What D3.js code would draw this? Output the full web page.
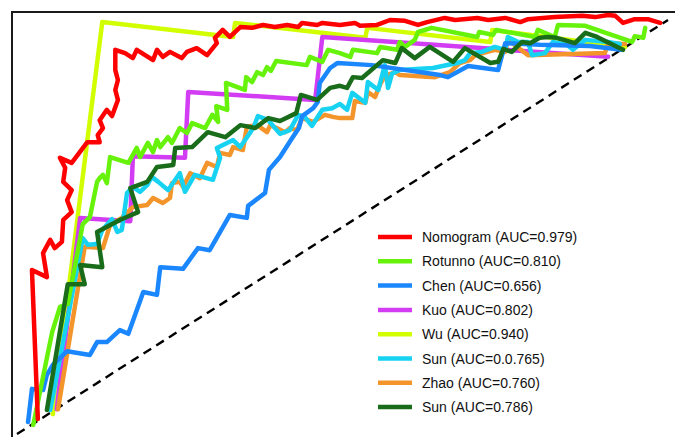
<!DOCTYPE html>
<html>
<head>
<meta charset="utf-8">
<script src="https://cdn.jsdelivr.net/npm/d3@7/dist/d3.min.js"></script>
<style>
  html, body { margin: 0; padding: 0; background: #fff; }
  svg { display: block; }
</style>
</head>
<body>
<div id="chart"></div>
<script>
// ROC curves of eight prediction models: [false positive rate, true positive rate]
const nomogram = [[0.032,0.036],[0.023,0.396],[0.046,0.379],[0.040,0.437],[0.051,0.469],[0.058,0.449],[0.069,0.464],[0.071,0.517],[0.084,0.536],[0.077,0.565],[0.084,0.589],[0.071,0.609],[0.074,0.643],[0.066,0.667],[0.084,0.655],[0.108,0.705],[0.127,0.705],[0.124,0.722],[0.132,0.739],[0.127,0.758],[0.138,0.783],[0.146,0.768],[0.155,0.807],[0.151,0.831],[0.155,0.855],[0.151,0.879],[0.151,0.928],[0.166,0.920],[0.178,0.908],[0.184,0.928],[0.209,0.903],[0.215,0.928],[0.224,0.911],[0.235,0.923],[0.253,0.908],[0.261,0.923],[0.276,0.932],[0.292,0.915],[0.307,0.944],[0.304,0.957],[0.316,0.976],[0.327,0.959],[0.343,0.983],[0.361,0.981],[0.378,0.988],[0.396,0.983],[0.415,0.988],[0.432,0.983],[0.438,0.993],[0.461,0.988],[0.469,0.993],[0.496,0.988],[0.519,0.993],[0.527,0.986],[0.553,0.988],[0.573,1.000],[0.596,0.998],[0.616,0.988],[0.630,0.995],[0.657,1.005],[0.673,1.000],[0.707,1.005],[0.724,1.000],[0.750,1.005],[0.773,0.995],[0.785,1.002],[0.826,1.007],[0.868,1.010],[0.888,1.007],[0.908,1.012],[0.919,1.010],[0.931,0.993],[0.949,1.002],[0.969,1.002],[0.988,0.993]];

const rotunno = [[0.025,0.022],[0.054,0.246],[0.066,0.307],[0.078,0.314],[0.101,0.507],[0.112,0.524],[0.123,0.609],[0.127,0.618],[0.132,0.626],[0.138,0.606],[0.143,0.669],[0.171,0.655],[0.184,0.691],[0.189,0.669],[0.201,0.703],[0.209,0.681],[0.215,0.710],[0.220,0.693],[0.232,0.717],[0.238,0.703],[0.250,0.739],[0.261,0.727],[0.269,0.751],[0.289,0.739],[0.300,0.771],[0.309,0.754],[0.306,0.792],[0.323,0.783],[0.321,0.848],[0.350,0.831],[0.352,0.862],[0.361,0.850],[0.369,0.874],[0.378,0.867],[0.384,0.886],[0.390,0.877],[0.398,0.901],[0.445,0.891],[0.450,0.911],[0.469,0.899],[0.478,0.928],[0.496,0.920],[0.512,0.911],[0.516,0.928],[0.553,0.920],[0.558,0.935],[0.584,0.928],[0.588,0.947],[0.596,0.935],[0.611,0.952],[0.616,0.971],[0.637,0.981],[0.707,0.959],[0.710,0.971],[0.731,0.964],[0.736,0.976],[0.796,0.959],[0.800,0.976],[0.826,0.959],[0.831,0.988],[0.873,0.986],[0.945,0.947],[0.949,0.961],[0.962,0.957],[0.965,0.981]];

const chen = [[0.017,0.029],[0.023,0.109],[0.040,0.106],[0.046,0.143],[0.055,0.167],[0.077,0.200],[0.112,0.191],[0.123,0.222],[0.138,0.222],[0.158,0.251],[0.171,0.242],[0.194,0.343],[0.215,0.336],[0.220,0.403],[0.255,0.399],[0.278,0.449],[0.296,0.444],[0.327,0.529],[0.353,0.522],[0.355,0.551],[0.381,0.582],[0.387,0.638],[0.404,0.669],[0.422,0.713],[0.433,0.739],[0.438,0.768],[0.455,0.787],[0.462,0.802],[0.465,0.848],[0.481,0.884],[0.492,0.896],[0.545,0.891],[0.650,0.867],[0.662,0.862],[0.693,0.889],[0.739,0.879],[0.750,0.944],[0.803,0.940],[0.880,0.937],[0.929,0.928]];

const kuo = [[0.061,0.060],[0.097,0.522],[0.174,0.514],[0.178,0.671],[0.258,0.667],[0.263,0.826],[0.458,0.807],[0.469,0.959],[0.908,0.911]];

const wu = [[0.055,0.048],[0.131,0.995],[0.332,0.959],[0.335,0.993],[0.535,0.957],[0.538,0.981],[0.727,0.947],[0.730,0.976],[0.934,0.935]];

const sunA = [[0.051,0.058],[0.101,0.473],[0.109,0.457],[0.123,0.459],[0.131,0.493],[0.146,0.519],[0.154,0.488],[0.161,0.493],[0.169,0.582],[0.178,0.597],[0.189,0.585],[0.200,0.601],[0.207,0.621],[0.217,0.609],[0.232,0.589],[0.250,0.630],[0.258,0.585],[0.273,0.626],[0.301,0.614],[0.312,0.667],[0.307,0.691],[0.332,0.710],[0.343,0.693],[0.363,0.739],[0.370,0.768],[0.386,0.758],[0.404,0.725],[0.419,0.734],[0.432,0.771],[0.442,0.766],[0.453,0.744],[0.469,0.783],[0.484,0.787],[0.496,0.797],[0.507,0.783],[0.515,0.824],[0.535,0.800],[0.539,0.850],[0.555,0.831],[0.565,0.891],[0.570,0.836],[0.576,0.870],[0.588,0.879],[0.639,0.884],[0.676,0.896],[0.688,0.903],[0.696,0.920],[0.714,0.923],[0.734,0.935],[0.750,0.928],[0.754,0.959],[0.770,0.947],[0.785,0.947],[0.791,0.915],[0.811,0.920],[0.823,0.947],[0.845,0.940],[0.854,0.928],[0.873,0.952],[0.908,0.947],[0.926,0.942]];

const zhao = [[0.063,0.060],[0.104,0.452],[0.132,0.449],[0.143,0.505],[0.161,0.522],[0.178,0.548],[0.200,0.553],[0.209,0.570],[0.224,0.558],[0.235,0.570],[0.238,0.606],[0.250,0.609],[0.255,0.597],[0.266,0.630],[0.281,0.618],[0.292,0.655],[0.307,0.645],[0.312,0.679],[0.327,0.674],[0.332,0.693],[0.347,0.686],[0.353,0.742],[0.369,0.746],[0.384,0.729],[0.389,0.746],[0.399,0.739],[0.412,0.729],[0.419,0.739],[0.430,0.734],[0.438,0.763],[0.447,0.758],[0.455,0.754],[0.473,0.771],[0.485,0.766],[0.496,0.763],[0.515,0.763],[0.519,0.804],[0.535,0.800],[0.539,0.826],[0.550,0.814],[0.558,0.845],[0.565,0.865],[0.581,0.874],[0.588,0.867],[0.642,0.862],[0.665,0.874],[0.680,0.896],[0.696,0.903],[0.704,0.915],[0.734,0.928],[0.750,0.923],[0.754,0.952],[0.785,0.915],[0.903,0.920],[0.908,0.944],[0.934,0.942]];

const sunB = [[0.046,0.058],[0.078,0.362],[0.104,0.362],[0.097,0.408],[0.131,0.403],[0.123,0.488],[0.158,0.517],[0.186,0.536],[0.174,0.594],[0.200,0.609],[0.215,0.645],[0.240,0.650],[0.243,0.691],[0.269,0.693],[0.293,0.729],[0.320,0.717],[0.343,0.746],[0.366,0.739],[0.386,0.763],[0.404,0.756],[0.429,0.775],[0.436,0.819],[0.461,0.807],[0.481,0.836],[0.496,0.841],[0.507,0.836],[0.516,0.862],[0.530,0.860],[0.562,0.903],[0.581,0.896],[0.591,0.932],[0.611,0.908],[0.634,0.935],[0.670,0.899],[0.688,0.932],[0.727,0.896],[0.739,0.899],[0.747,0.930],[0.760,0.923],[0.776,0.947],[0.788,0.944],[0.803,0.957],[0.816,0.959],[0.829,0.957],[0.857,0.944],[0.873,0.969],[0.891,0.959],[0.931,0.928]];

// Legend entries (top to bottom) and line colours
const modelNames = ["Nomogram (AUC=0.979)", "Rotunno (AUC=0.810)", "Chen (AUC=0.656)", "Kuo (AUC=0.802)", "Wu (AUC=0.940)", "Sun (AUC=0.0.765)", "Zhao (AUC=0.760)", "Sun (AUC=0.786)"];
const modelColors = ["#ff0000", "#66f20a", "#1a87ff", "#d23cf2", "#d2ff00", "#18d2f2", "#f4952c", "#186c1a"];
const modelCurves = [nomogram, rotunno, chen, kuo, wu, sunA, zhao, sunB];
// Stacking order of the curves (first drawn = bottom)
const drawOrder = [4, 3, 6, 5, 2, 1, 7, 0];

const W = 675, H = 437;
const svg = d3.select("#chart").append("svg").attr("width", W).attr("height", H);

const x = d3.scaleLinear().domain([0, 1]).range([17, 668]);
const y = d3.scaleLinear().domain([0, 1]).range([434, 20]);

// Plot frame: only the top and left edges fall inside the view
const frameLeft = 12, frameTop = 12;
svg.append("path")
  .attr("d", `M${frameLeft},${H + 5}V${frameTop}H${W + 5}`)
  .attr("fill", "none")
  .attr("stroke", "#1a1a1a")
  .attr("stroke-width", 2);

// Chance diagonal
svg.append("line")
  .attr("x1", x(0)).attr("y1", y(0))
  .attr("x2", x(1)).attr("y2", y(1))
  .attr("stroke", "#000")
  .attr("stroke-width", 2.4)
  .attr("stroke-dasharray", "9,6");

const line = d3.line().x(d => x(d[0])).y(d => y(d[1]));

svg.append("g").selectAll("path")
  .data(drawOrder)
  .join("path")
  .attr("d", i => line(modelCurves[i]))
  .attr("fill", "none")
  .attr("stroke", i => modelColors[i])
  .attr("stroke-width", 4.5)
  .attr("stroke-linejoin", "round")
  .attr("stroke-linecap", "round");

// Legend
const legendX = 378, legendTop = 237, legendStep = 24.3, swatchLen = 34;
const legend = svg.append("g");
const rows = legend.selectAll("g")
  .data(modelNames)
  .join("g")
  .attr("transform", (d, i) => `translate(${legendX},${legendTop + i * legendStep})`);
rows.append("line")
  .attr("x1", 0).attr("x2", swatchLen)
  .attr("stroke", (d, i) => modelColors[i])
  .attr("stroke-width", 4.5);
rows.append("text")
  .attr("x", swatchLen + 10)
  .attr("dy", "0.36em")
  .attr("font-family", "Liberation Sans, Arial, Helvetica, sans-serif")
  .attr("font-size", 14)
  .attr("fill", "#111")
  .text(d => d);
</script>
</body>
</html>
